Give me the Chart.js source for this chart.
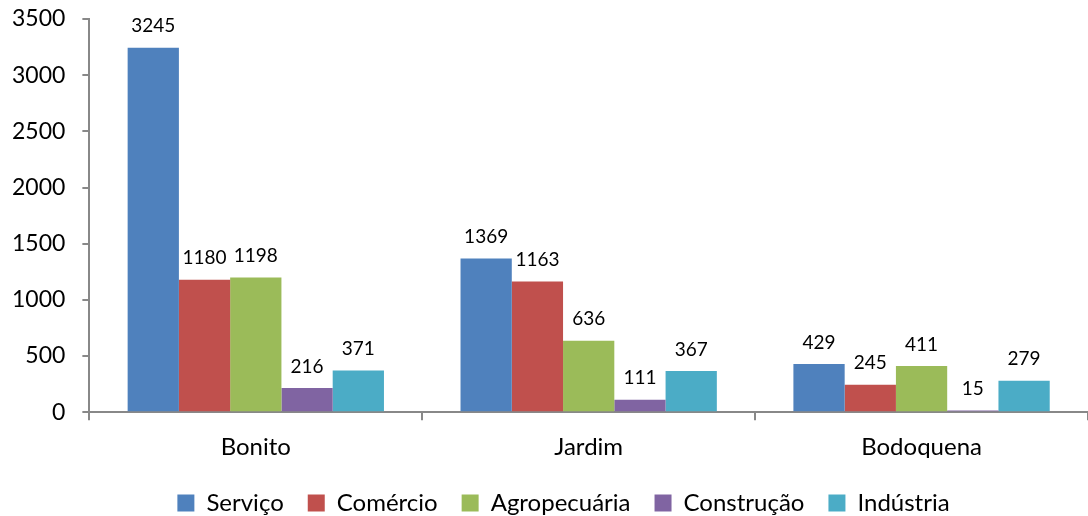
<!DOCTYPE html>
<html>
<head>
<meta charset="utf-8">
<script src="https://cdn.jsdelivr.net/npm/chart.js@4.4.0/dist/chart.umd.min.js"></script>
<style>
  html, body { margin: 0; padding: 0; background: #fff; }
  #wrap { width: 1088px; height: 516px; position: relative; }
</style>
</head>
<body>
<div id="wrap"><canvas id="chart"></canvas></div>
<script>
// categorias e series
const categories = ['Bonito', 'Jardim', 'Bodoquena'];
const servico = [3245, 1369, 429];
const comercio = [1180, 1163, 245];
const agropecuaria = [1198, 636, 411];
const construcao = [216, 111, 15];
const industria = [371, 367, 279];
const yTicks = [0, 500, 1000, 1500, 2000, 2500, 3000, 3500];

const FONT = 'Lato, "Open Sans", sans-serif';

// rotulos de valor acima das barras
const valueLabels = {
    id: 'valueLabels',
    afterDatasetsDraw(chart) {
        const ctx = chart.ctx;
        ctx.save();
        ctx.font = '19px ' + FONT;
        ctx.fillStyle = '#000';
        ctx.textAlign = 'center';
        ctx.textBaseline = 'bottom';
        chart.data.datasets.forEach((ds, i) => {
            chart.getDatasetMeta(i).data.forEach((bar, j) => {
                ctx.fillText(ds.data[j], bar.x, bar.y - 12);
            });
        });
        ctx.restore();
    }
};

// desloca a legenda (para baixo e um pouco para a direita), como no original
const legendShift = {
    id: 'legendShift',
    afterLayout(chart) {
        const lg = chart.legend;
        if (lg) {
            lg.top += 9;
            lg.bottom += 9;
            lg.left += 22;
            lg.right += 22;
        }
    }
};

function series(label, data, color) {
    return { label: label, data: data, backgroundColor: color, borderWidth: 0 };
}

new Chart(document.getElementById('chart'), {
    type: 'bar',
    data: {
        labels: categories,
        datasets: [
            series('Serviço', servico, '#4f81bd'),
            series('Comércio', comercio, '#c0504d'),
            series('Agropecuária', agropecuaria, '#9bbb59'),
            series('Construção', construcao, '#8064a2'),
            series('Indústria', industria, '#4bacc6')
        ]
    },
    options: {
        responsive: true,
        maintainAspectRatio: false,
        animation: false,
        layout: { padding: { top: 0, right: 0, left: -5, bottom: 0 } },
        datasets: { bar: { categoryPercentage: 0.77, barPercentage: 1 } },
        plugins: {
            legend: {
                position: 'bottom',
                labels: {
                    font: { size: 24, family: FONT },
                    color: '#000',
                    boxWidth: 17,
                    boxHeight: 17,
                    padding: 24
                }
            },
            tooltip: { enabled: false }
        },
        scales: {
            x: {
                border: { color: '#888', width: 2 },
                grid: { display: true, drawOnChartArea: false, offset: true, tickLength: 8, color: '#888', lineWidth: 2 },
                ticks: { font: { size: 24, family: FONT }, color: '#000', padding: 13 },
                afterFit: scale => { scale.height -= 17; }
            },
            y: {
                min: 0,
                max: 3500,
                afterBuildTicks: axis => { axis.ticks = yTicks.map(v => ({ value: v })); },
                afterFit: scale => { scale.paddingTop = 19; scale.paddingBottom = 0; },
                border: { color: '#888', width: 2 },
                grid: { display: true, drawOnChartArea: false, tickLength: 7, color: '#888', lineWidth: 2 },
                ticks: { font: { size: 23, family: FONT }, color: '#000', padding: 17, callback: v => String(v) }
            }
        }
    },
    plugins: [valueLabels, legendShift]
});
</script>
</body>
</html>
